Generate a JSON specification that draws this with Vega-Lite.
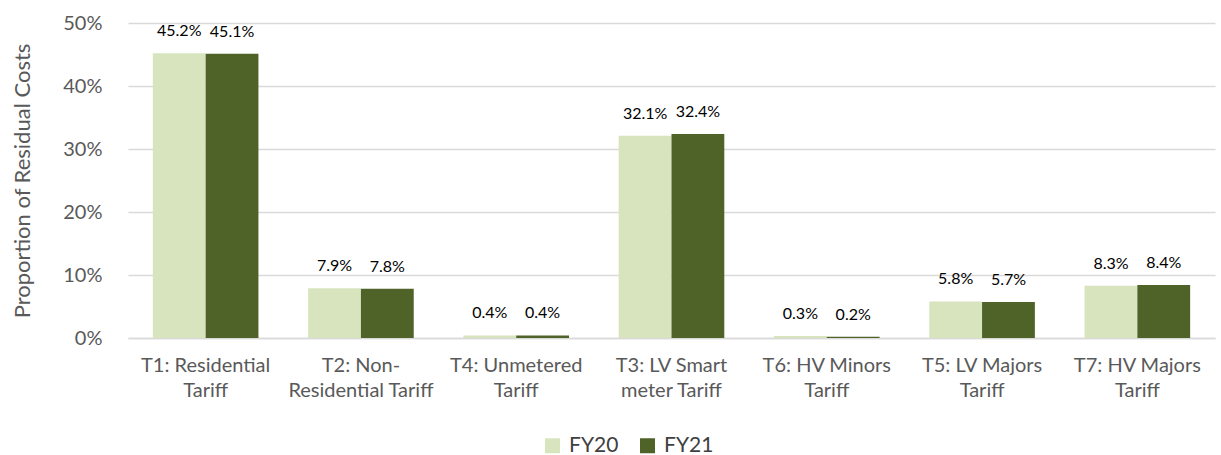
{
  "$schema": "https://vega.github.io/schema/vega-lite/v6.json",
  "autosize": {"type": "none"},
  "width": 1087,
  "height": 315,
  "padding": {"left": 128, "top": 23, "right": 6, "bottom": 117},
  "background": "white",
  "config": {
    "font": "Lato",
    "view": {"stroke": null}
  },
  "data": {
    "values": [
      {"tariff": "T1: Residential|Tariff", "year": "FY20", "share": 0.452},
      {"tariff": "T1: Residential|Tariff", "year": "FY21", "share": 0.451},
      {"tariff": "T2: Non-|Residential Tariff", "year": "FY20", "share": 0.079},
      {"tariff": "T2: Non-|Residential Tariff", "year": "FY21", "share": 0.078},
      {"tariff": "T4: Unmetered|Tariff", "year": "FY20", "share": 0.004},
      {"tariff": "T4: Unmetered|Tariff", "year": "FY21", "share": 0.004},
      {"tariff": "T3: LV Smart|meter Tariff", "year": "FY20", "share": 0.321},
      {"tariff": "T3: LV Smart|meter Tariff", "year": "FY21", "share": 0.324},
      {"tariff": "T6: HV Minors|Tariff", "year": "FY20", "share": 0.003},
      {"tariff": "T6: HV Minors|Tariff", "year": "FY21", "share": 0.002},
      {"tariff": "T5: LV Majors|Tariff", "year": "FY20", "share": 0.058},
      {"tariff": "T5: LV Majors|Tariff", "year": "FY21", "share": 0.057},
      {"tariff": "T7: HV Majors|Tariff", "year": "FY20", "share": 0.083},
      {"tariff": "T7: HV Majors|Tariff", "year": "FY21", "share": 0.084}
    ]
  },
  "encoding": {
    "x": {
      "field": "tariff",
      "type": "nominal",
      "sort": null,
      "scale": {"paddingInner": 0.32, "paddingOuter": 0.16},
      "axis": {
        "title": null,
        "labelAngle": 0,
        "labelExpr": "split(datum.label, '|')",
        "labelFontSize": 20,
        "labelColor": "#595959",
        "labelPadding": 17,
        "labelLineHeight": 25,
        "labelBaseline": "top",
        "labelLimit": 300,
        "ticks": false,
        "domainColor": "#d9d9d9",
        "domainWidth": 1.5
      }
    },
    "xOffset": {"field": "year", "type": "nominal", "sort": ["FY20", "FY21"]},
    "y": {
      "field": "share",
      "type": "quantitative",
      "scale": {"domain": [0, 0.5], "nice": false},
      "axis": {
        "title": "Proportion of Residual Costs",
        "titleFontSize": 22,
        "titleFontWeight": "normal",
        "titleColor": "#595959",
        "titlePadding": 28,
        "format": ".0%",
        "values": [0, 0.1, 0.2, 0.3, 0.4, 0.5],
        "labelOverlap": false,
        "labelFlush": false,
        "labelFontSize": 20,
        "labelColor": "#595959",
        "labelPadding": 26,
        "ticks": false,
        "domain": false,
        "gridColor": "#d9d9d9",
        "gridWidth": 1.5
      }
    }
  },
  "layer": [
    {
      "mark": {"type": "bar"},
      "encoding": {
        "color": {
          "field": "year",
          "type": "nominal",
          "scale": {"domain": ["FY20", "FY21"], "range": ["#d7e4bd", "#4f6228"]},
          "legend": {
            "title": null,
            "orient": "none",
            "direction": "horizontal",
            "legendX": 414,
            "legendY": 412,
            "symbolType": "square",
            "symbolSize": 225,
            "symbolStrokeWidth": 0,
            "labelFontSize": 21,
            "labelColor": "#404040",
            "columnPadding": 18,
            "labelOffset": 6
          }
        }
      }
    },
    {
      "mark": {"type": "text", "baseline": "alphabetic", "dy": -17, "fontSize": 16, "color": "#000000"},
      "encoding": {
        "text": {"field": "share", "type": "quantitative", "format": ".1%"}
      }
    }
  ]
}
